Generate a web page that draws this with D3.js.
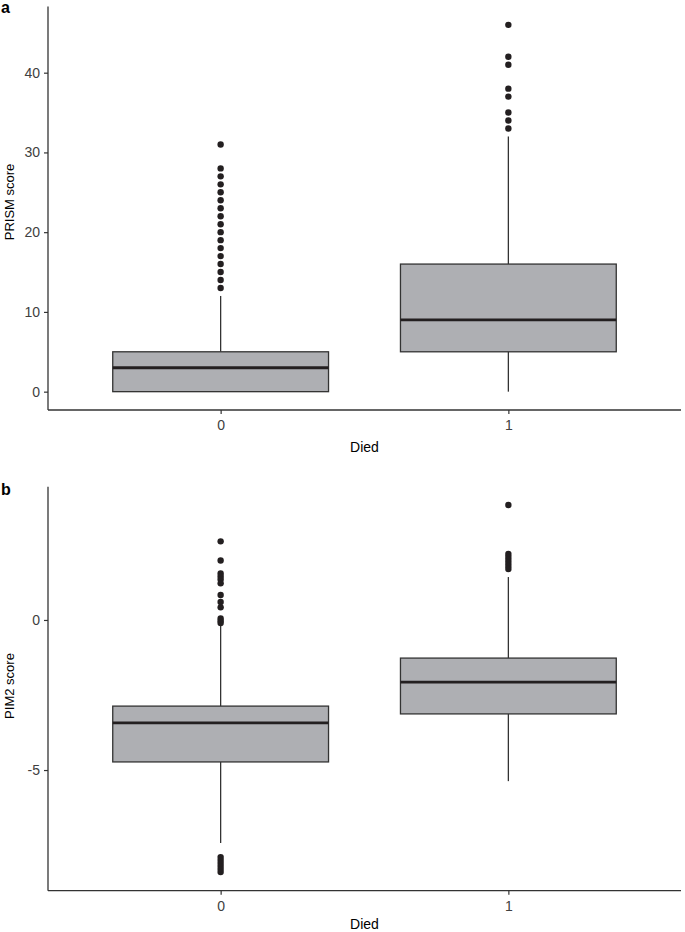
<!DOCTYPE html>
<html>
<head>
<meta charset="utf-8">
<script src="https://cdn.jsdelivr.net/npm/d3@7/dist/d3.min.js"></script>
<style>
  html, body { margin: 0; padding: 0; background: #fff; }
  svg { display: block; font-family: "Liberation Sans", Arial, Helvetica, sans-serif; }
</style>
</head>
<body>
<svg id="chart" width="685" height="932"></svg>
<script>
// ---------- data ----------
const categories = ["0", "1"];

// Panel a: PRISM score
const prismQ1 = [0, 5];
const prismMedian = [3, 9];
const prismQ3 = [5, 16];
const prismWhiskerLow = [0, 0];
const prismWhiskerHigh = [12, 32];
const prismOutliers0 = [13, 14, 15, 16, 17, 18, 19, 20, 21, 22, 23, 24, 25, 26, 27, 28, 31];
const prismOutliers1 = [33, 34, 35, 37, 38, 41, 42, 46];
const prismTicks = [0, 10, 20, 30, 40];

// Panel b: PIM2 score
const pimQ1 = [-4.73, -3.13];
const pimMedian = [-3.43, -2.07];
const pimQ3 = [-2.87, -1.27];
const pimWhiskerLow = [-7.43, -5.37];
const pimWhiskerHigh = [-0.15, 1.43];
const pimOutliers0 = [2.62, 1.98, 1.55, 1.45, 1.35, 1.22, 0.83, 0.6, 0.42, 0.05, -0.03, -0.1,
                      -7.9, -8.0, -8.1, -8.2, -8.3, -8.4];
const pimOutliers1 = [3.83, 2.2, 2.1, 2.0, 1.9, 1.8, 1.7];
const pimTicks = [-5, 0];

// ---------- drawing ----------
const svg = d3.select("#chart");
const left = 48, right = 681;

const x = d3.scalePoint().domain(categories).range([left, right]).padding(0.6);
const boxW = x.step() * 0.75;

function panel(cfg) {
  const g = svg.append("g");
  const y = d3.scaleLinear().domain(cfg.domain).range([cfg.bottom, cfg.top]);

  const stats = categories.map((c, i) => ({
    c, q1: cfg.q1[i], med: cfg.med[i], q3: cfg.q3[i],
    lo: cfg.lo[i], hi: cfg.hi[i], out: cfg.out[i]
  }));

  // whiskers
  g.selectAll(".wh").data(stats).join("line")
    .attr("x1", d => x(d.c)).attr("x2", d => x(d.c))
    .attr("y1", d => y(d.hi)).attr("y2", d => y(d.q3))
    .attr("stroke", "#333").attr("stroke-width", 1.3);
  g.selectAll(".wl").data(stats).join("line")
    .attr("x1", d => x(d.c)).attr("x2", d => x(d.c))
    .attr("y1", d => y(d.q1)).attr("y2", d => y(d.lo))
    .attr("stroke", "#333").attr("stroke-width", 1.3);

  // boxes
  g.selectAll(".box").data(stats).join("rect")
    .attr("x", d => x(d.c) - boxW / 2).attr("width", boxW)
    .attr("y", d => y(d.q3)).attr("height", d => y(d.q1) - y(d.q3))
    .attr("fill", "#aeafb3").attr("stroke", "#333").attr("stroke-width", 1.3);

  // medians
  g.selectAll(".med").data(stats).join("line")
    .attr("x1", d => x(d.c) - boxW / 2).attr("x2", d => x(d.c) + boxW / 2)
    .attr("y1", d => y(d.med)).attr("y2", d => y(d.med))
    .attr("stroke", "#231f20").attr("stroke-width", 2.8);

  // outliers
  const pts = stats.flatMap(d => d.out.map(v => ({ c: d.c, v })));
  g.selectAll(".pt").data(pts).join("circle")
    .attr("cx", d => x(d.c)).attr("cy", d => y(d.v)).attr("r", 3.2)
    .attr("fill", "#231f20");

  // axes
  const ya = g.append("g").attr("transform", `translate(${left},0)`)
    .call(d3.axisLeft(y).tickValues(cfg.ticks).tickSize(4).tickSizeOuter(0).tickPadding(4)
      .tickFormat(d => d < 0 ? "-" + Math.abs(d) : String(d)));
  const xa = g.append("g").attr("transform", `translate(0,${cfg.bottom})`)
    .call(d3.axisBottom(x).tickSize(4).tickSizeOuter(0).tickPadding(6));
  [ya, xa].forEach(a => {
    a.select(".domain").attr("stroke", "#333").attr("stroke-width", 1.3);
    a.selectAll(".tick line").attr("stroke", "#333").attr("stroke-width", 1.2);
    a.selectAll(".tick text").attr("fill", "#404040").style("font-size", "14px");
  });
  // extend axis lines to meet at the corner
  ya.select(".domain").attr("d", `M0,${cfg.top}V${cfg.bottom}`);
  xa.select(".domain").attr("d", `M${left},0H${right}`);

  // titles
  g.append("text").attr("x", (left + right) / 2).attr("y", cfg.xlabY)
    .attr("text-anchor", "middle").style("font-size", "14px").attr("fill", "#000").text("Died");
  g.append("text")
    .attr("transform", `translate(14,${cfg.ylabY}) rotate(-90)`)
    .attr("text-anchor", "middle").style("font-size", "13px").attr("fill", "#000").text(cfg.ylab);
  g.append("text").attr("x", 1).attr("y", cfg.tagY)
    .style("font-size", "16px").style("font-weight", "bold").attr("fill", "#000").text(cfg.tag);
}

panel({
  domain: [-2.3, 48.3], top: 6.5, bottom: 410,
  q1: prismQ1, med: prismMedian, q3: prismQ3, lo: prismWhiskerLow, hi: prismWhiskerHigh,
  out: [prismOutliers0, prismOutliers1], ticks: prismTicks,
  ylab: "PRISM score", ylabY: 202, xlabY: 452, tag: "a", tagY: 13
});

panel({
  domain: [-9.02, 4.44], top: 486.7, bottom: 890.7,
  q1: pimQ1, med: pimMedian, q3: pimQ3, lo: pimWhiskerLow, hi: pimWhiskerHigh,
  out: [pimOutliers0, pimOutliers1], ticks: pimTicks,
  ylab: "PIM2 score", ylabY: 686, xlabY: 929, tag: "b", tagY: 495
});
</script>
</body>
</html>
